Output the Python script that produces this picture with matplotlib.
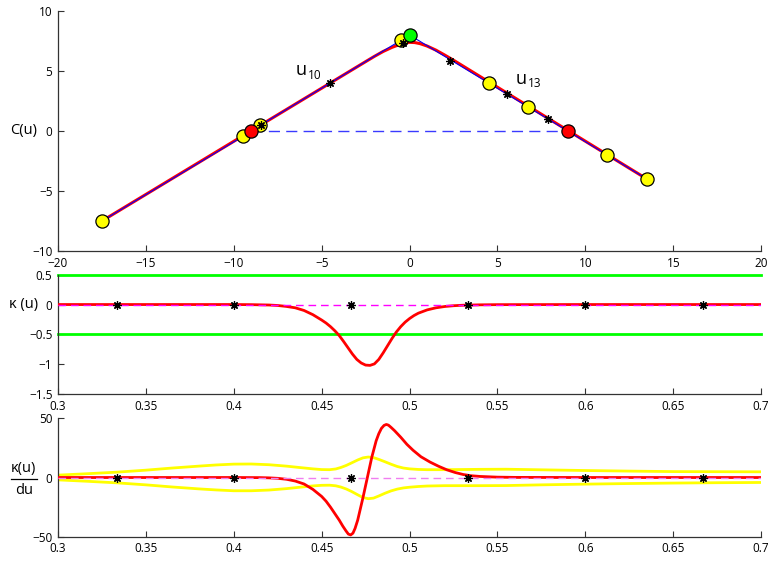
import matplotlib
matplotlib.use("Agg")
import matplotlib.pyplot as plt
from matplotlib.ticker import FixedLocator, FuncFormatter
from matplotlib.lines import Line2D

plt.rcParams['font.family'] = ['Open Sans', 'DejaVu Sans']
plt.rcParams['lines.scale_dashes'] = False
plt.rcParams['axes.unicode_minus'] = True

# ---- curve C(u) ----
ctrl_x = [-17.5, -9.45, -8.5, -0.47, 0.0, 4.5, 6.75, 11.25, 13.5]
ctrl_y = [-7.5, -0.42, 0.47, 7.58, 8.0, 4.0, 2.0, -2.0, -4.0]
apex_index = 4

curve_x = [-17.5, -2.5, -2.0, -1.5, -1.0, -0.6, -0.3, 0.0, 0.3, 0.6, 1.0, 1.5, 2.0, 2.5, 3.0, 13.5]
curve_y = [-7.5, 5.78, 6.22, 6.63, 6.97, 7.19, 7.32, 7.39, 7.37, 7.28, 7.08, 6.74, 6.33, 5.9, 5.45, -4.0]

root_x = [-9.0, 9.0]
root_y = [0.0, 0.0]

knot_x = [-8.45, -4.52, -0.39, 2.3, 5.53, 7.9]
knot_y = [0.52, 4.03, 7.36, 5.86, 3.08, 1.03]

# ---- curvature kappa(u) ----
knot_u = [0.3333, 0.4, 0.4667, 0.5333, 0.6, 0.6667]

kappa_u = [0.30, 0.40, 0.41, 0.42, 0.425, 0.43, 0.435, 0.44, 0.445, 0.45, 0.4525,
           0.455, 0.4575, 0.46, 0.4625, 0.465, 0.4675, 0.47, 0.4725, 0.475, 0.4775,
           0.48, 0.4825, 0.485, 0.4875, 0.49, 0.4925, 0.495, 0.4975, 0.50, 0.5025,
           0.505, 0.51, 0.515, 0.52, 0.525, 0.53, 0.54, 0.55, 0.60, 0.70]
kappa_v = [0.0, 0.0, -0.002, -0.008, -0.016, -0.032, -0.055, -0.1, -0.17, -0.26, -0.31,
           -0.37, -0.44, -0.52, -0.62, -0.725, -0.83, -0.92, -0.98, -1.015, -1.02,
           -0.995, -0.92, -0.81, -0.69, -0.57, -0.46, -0.37, -0.295, -0.235, -0.185,
           -0.145, -0.09, -0.055, -0.033, -0.02, -0.012, -0.005, -0.002, 0.0, 0.0]

# ---- derivative of curvature ----
dk_u = [0.30, 0.40, 0.415, 0.42, 0.425, 0.43, 0.435, 0.44, 0.445, 0.45, 0.4525,
        0.455, 0.4575, 0.46, 0.462, 0.4638, 0.4652, 0.4665, 0.4678, 0.469, 0.4705,
        0.4735, 0.476, 0.4785, 0.481, 0.4825, 0.484, 0.4855, 0.4868, 0.488, 0.4895,
        0.4915, 0.495, 0.4985, 0.502, 0.5065, 0.5117, 0.5165, 0.5212, 0.526, 0.5306,
        0.535, 0.54, 0.55, 0.56, 0.60, 0.70]
dk_v = [0.0, 0.0, -0.1, -0.3, -0.7, -1.5, -3.0, -5.5, -10.0, -16.0, -20.0,
        -25.0, -30.5, -36.0, -41.0, -45.0, -47.8, -48.5, -47.0, -43.0, -36.0,
        -17.0, 0.0, 17.0, 31.0, 37.0, 41.5, 44.0, 44.8, 44.2, 42.3,
        39.5, 34.0, 28.0, 23.0, 17.5, 13.0, 9.5, 6.5, 4.2, 2.5,
        1.5, 0.9, 0.3, 0.1, 0.0, 0.0]

band_u = [0.30, 0.3167, 0.3333, 0.35, 0.365, 0.38, 0.39, 0.40, 0.41, 0.42, 0.43,
          0.437, 0.445, 0.45, 0.4545, 0.458, 0.461, 0.464, 0.467, 0.4705, 0.4735,
          0.4765, 0.4795, 0.4825, 0.486, 0.4895, 0.493, 0.4965, 0.50, 0.505, 0.51,
          0.52, 0.54, 0.555, 0.575, 0.60, 0.625, 0.65, 0.675, 0.70]
band_hi = [2.0, 3.2, 4.5, 6.2, 8.0, 9.6, 10.6, 11.3, 11.4, 10.8, 9.6,
           8.5, 7.3, 6.7, 6.6, 7.2, 8.5, 10.2, 12.3, 14.8, 16.6,
           17.3, 16.8, 15.3, 13.3, 11.2, 9.3, 8.0, 7.3, 6.8, 6.6,
           6.6, 6.9, 7.0, 6.5, 5.9, 5.4, 5.0, 4.9, 4.8]
band_lo = [-2.0, -3.2, -4.5, -6.2, -8.0, -9.6, -10.5, -11.2, -11.2, -10.6, -9.4,
           -8.3, -7.1, -6.6, -6.5, -7.0, -8.1, -9.7, -11.8, -14.6, -16.9,
           -17.9, -17.4, -15.6, -13.3, -11.3, -9.8, -8.8, -8.2, -7.6, -7.2,
           -6.9, -6.9, -6.8, -6.2, -5.6, -5.1, -4.7, -4.4, -4.2]

C_xticks = [-20, -15, -10, -5, 0, 5, 10, 15, 20]
C_yticks = [-10, -5, 0, 5, 10]
u_ticks = [0.3, 0.35, 0.4, 0.45, 0.5, 0.55, 0.6, 0.65, 0.7]
kappa_ticks = [-1.5, -1, -0.5, 0, 0.5]
kappa_bounds = [-0.5, 0.5]
dk_ticks = [-50, 0, 50]

RED = '#ff0000'
BLUE = '#0000ff'
DASH_BLUE = '#3a3aff'
YELLOW = '#ffff00'
GREEN = '#00ff00'
MAGENTA = '#ff00ff'
VIOLET = '#f07ef0'
TICK_FS = 8.5
LABEL_FS = 10.5

fig = plt.figure(figsize=(7.71, 5.62), dpi=100)
ax1 = fig.add_axes([0.0752, 0.5534, 0.912, 0.427])
ax2 = fig.add_axes([0.0752, 0.2989, 0.912, 0.2123])
ax3 = fig.add_axes([0.0752, 0.0450, 0.912, 0.2107])

fmt = FuncFormatter(lambda v, p: ('%g' % v).replace('-', '\u2212'))


def style(ax, xticks, yticks, xlim, ylim):
    ax.set_xlim(*xlim)
    ax.set_ylim(*ylim)
    ax.xaxis.set_major_locator(FixedLocator(xticks))
    ax.yaxis.set_major_locator(FixedLocator(yticks))
    ax.xaxis.set_major_formatter(fmt)
    ax.yaxis.set_major_formatter(fmt)
    for s in ('top', 'right'):
        ax.spines[s].set_visible(False)
    for s in ('left', 'bottom'):
        ax.spines[s].set_color('#333333')
        ax.spines[s].set_linewidth(0.9)
    ax.tick_params(direction='in', length=4, width=0.8, color='#333333',
                   labelsize=TICK_FS, pad=4)
    ax.set_facecolor('none')


# top panel: the curve, its control polygon and markers
style(ax1, C_xticks, C_yticks, (-20, 20), (-10, 10))
ax1.plot(curve_x, curve_y, color=RED, lw=2.2, solid_capstyle='round',
         solid_joinstyle='round', zorder=2)
ax1.plot(ctrl_x, ctrl_y, color=BLUE, lw=0.8, zorder=3)
ax1.plot(root_x, root_y, color=DASH_BLUE, lw=1.0, dashes=(8, 4.5), zorder=3)
yel_x = [x for i, x in enumerate(ctrl_x) if i != apex_index]
yel_y = [y for i, y in enumerate(ctrl_y) if i != apex_index]
ax1.plot(yel_x, yel_y, ls='none', marker='o', ms=9.5, mfc=YELLOW, mec='k', mew=0.9, zorder=4)
ax1.plot(root_x, root_y, ls='none', marker='o', ms=9.5, mfc=RED, mec='k', mew=0.9, zorder=5)
ax1.plot([ctrl_x[apex_index]], [ctrl_y[apex_index]], ls='none', marker='o', ms=9.5,
         mfc=GREEN, mec='k', mew=0.9, zorder=5)
ax1.plot(knot_x, knot_y, ls='none', marker=(8, 2, 0), ms=6, mec='k', mew=0.9, zorder=6)
ax1.text(-6.17, 5.05, 'u', fontsize=13, ha='center', va='center')
ax1.text(-5.4, 4.65, '10', fontsize=8.5, ha='center', va='center')
ax1.text(6.36, 4.3, 'u', fontsize=13, ha='center', va='center')
ax1.text(7.11, 4.0, '13', fontsize=8.5, ha='center', va='center')

# middle panel: curvature
style(ax2, u_ticks, kappa_ticks, (0.3, 0.7), (-1.5, 0.5))
for b in kappa_bounds:
    ax2.plot([0.3, 0.7], [b, b], color=GREEN, lw=2.0, zorder=2, clip_on=False)
ax2.plot(kappa_u, kappa_v, color=RED, lw=2.0, solid_joinstyle='round', zorder=3)
ax2.plot([0.3, 0.7], [0, 0], color=MAGENTA, lw=1.0, dashes=(5.5, 3.5), zorder=4)
ax2.plot(knot_u, [0] * len(knot_u), ls='none', marker=(8, 2, 0), ms=6, mec='k', mew=0.9, zorder=5)

# bottom panel: derivative of curvature
style(ax3, u_ticks, dk_ticks, (0.3, 0.7), (-50, 50))
ax3.plot(band_u, band_hi, color=YELLOW, lw=2.0, solid_joinstyle='round', zorder=2)
ax3.plot(band_u, band_lo, color=YELLOW, lw=2.0, solid_joinstyle='round', zorder=2)
ax3.plot(dk_u, dk_v, color=RED, lw=2.0, solid_joinstyle='round', zorder=3)
ax3.plot([0.3, 0.7], [0, 0], color=VIOLET, lw=1.0, dashes=(5.5, 3.5), zorder=4)
ax3.plot(knot_u, [0] * len(knot_u), ls='none', marker=(8, 2, 0), ms=6, mec='k', mew=0.9, zorder=5)

# axis labels, written horizontally to the left of each panel
fig.text(0.030, 0.767, 'C(u)', fontsize=LABEL_FS, ha='center', va='center')
fig.text(0.031, 0.458, '\u03ba (u)', fontsize=LABEL_FS, ha='center', va='center')
fig.text(0.031, 0.1664, '\u03ba(u)', fontsize=LABEL_FS, ha='center', va='center')
fig.add_artist(Line2D([0.0143, 0.048], [0.1477, 0.1477], color='k', lw=0.9,
                      transform=fig.transFigure))
fig.text(0.031, 0.128, 'du', fontsize=LABEL_FS, ha='center', va='center')

fig.savefig('out.png', dpi=100)
